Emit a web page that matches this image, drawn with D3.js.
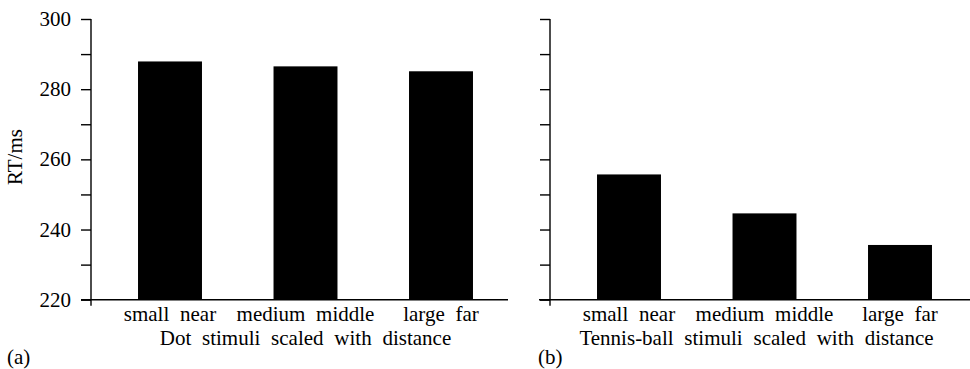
<!DOCTYPE html>
<html>
<head>
<meta charset="utf-8">
<script src="https://cdn.jsdelivr.net/npm/d3@7"></script>
<style>
  html, body { margin: 0; padding: 0; background: #fff; }
  svg text { font-family: "Liberation Serif", "Times New Roman", serif; fill: #000; }
</style>
</head>
<body>
<svg id="chart" width="970" height="369"></svg>
<script>
const categories = ["small near", "medium middle", "large far"];
const dotValues = [287.9, 286.5, 285.1];
const tennisValues = [255.7, 244.6, 235.6];
const yMajorTicks = [220, 240, 260, 280, 300];
const yAllTicks = [220, 230, 240, 250, 260, 270, 280, 290, 300];
const panels = [
  { label: "(a)", title: "Dot stimuli scaled with distance", values: dotValues, showLabels: true },
  { label: "(b)", title: "Tennis-ball stimuli scaled with distance", values: tennisValues, showLabels: false }
];

const svg = d3.select("#chart");
const y = d3.scaleLinear().domain([220, 300]).range([299.7, 19]);
const layout = [
  { axisX: 91, xStart: 81, xEnd: 508, labelX: 7 },
  { axisX: 550, xStart: 539, xEnd: 970, labelX: 538 }
];
const fs = 21;

panels.forEach((p, i) => {
  const L = layout[i];
  const x = d3.scaleBand().domain(categories)
    .range([L.axisX, L.axisX + 429]).paddingInner(0.528).paddingOuter(0.347);
  const g = svg.append("g");

  // bars
  g.selectAll("rect").data(p.values).join("rect")
    .attr("x", (d, j) => x(categories[j]))
    .attr("width", x.bandwidth())
    .attr("y", d => y(d))
    .attr("height", d => y(220) - y(d))
    .attr("fill", "#000");

  // y axis
  const yAxis = d3.axisLeft(y).tickValues(yAllTicks).tickSize(10).tickSizeOuter(0)
    .tickFormat(() => "");
  const ya = g.append("g").attr("transform", `translate(${L.axisX},0)`).call(yAxis);
  ya.select(".domain").remove();
  ya.selectAll(".tick line").attr("stroke", "#000").attr("stroke-width", 1.4);
  ya.append("line").attr("x1", 0).attr("x2", 0).attr("y1", y(300)).attr("y2", y(220) + 6)
    .attr("stroke", "#000").attr("stroke-width", 1.4);

  if (p.showLabels) {
    g.selectAll(".ylab").data(yMajorTicks).join("text")
      .attr("class", "ylab")
      .attr("x", L.axisX - 20).attr("y", d => y(d))
      .attr("dy", "0.34em")
      .attr("text-anchor", "end")
      .attr("font-size", fs)
      .text(d => d);
    g.append("text")
      .attr("transform", `translate(22,157) rotate(-90)`)
      .attr("text-anchor", "middle")
      .attr("font-size", fs)
      .text("RT/ms");
  }

  // x axis line
  g.append("line").attr("x1", L.xStart).attr("x2", L.xEnd)
    .attr("y1", y(220)).attr("y2", y(220))
    .attr("stroke", "#000").attr("stroke-width", 1.4);

  // category labels
  g.selectAll(".xlab").data(categories).join("text")
    .attr("class", "xlab")
    .attr("x", d => x(d) + x.bandwidth() / 2)
    .attr("y", 321)
    .attr("text-anchor", "middle")
    .attr("font-size", fs)
    .attr("word-spacing", "5.5px")
    .text(d => d);

  // axis title
  g.append("text")
    .attr("x", x(categories[1]) + x.bandwidth() / 2 - (i === 1 ? 8 : 0))
    .attr("y", 345)
    .attr("text-anchor", "middle")
    .attr("font-size", fs)
    .attr("word-spacing", "5.5px")
    .text(p.title);

  // panel label
  g.append("text")
    .attr("x", L.labelX).attr("y", 364)
    .attr("font-size", fs)
    .text(p.label);
});
</script>
</body>
</html>
